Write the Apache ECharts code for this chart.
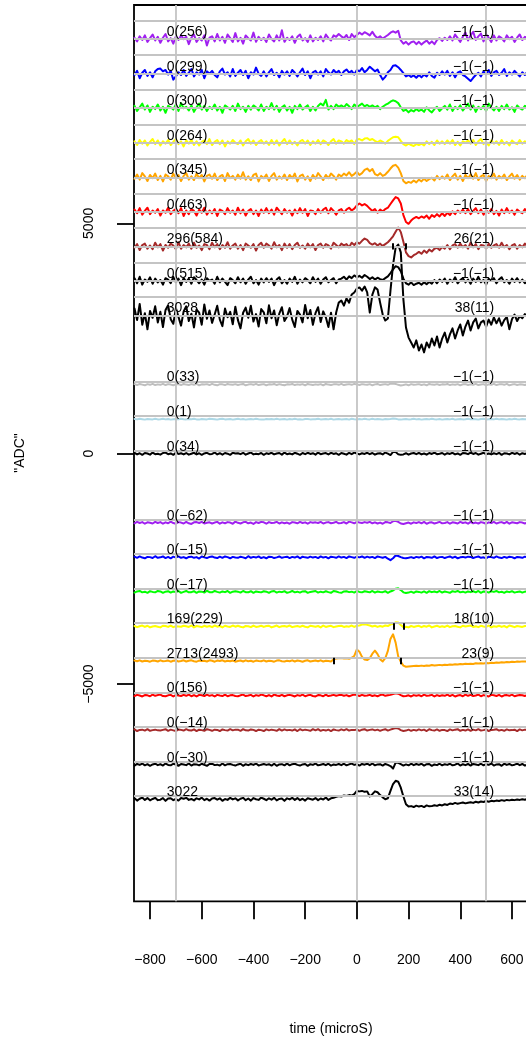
<!DOCTYPE html>
<html>
<head>
<meta charset="utf-8">
<script src="https://cdn.jsdelivr.net/npm/echarts@6/dist/echarts.min.js"></script>
<style>
html,body{margin:0;padding:0;background:#fff;}
#chart{width:526px;height:1037px;}
</style>
</head>
<body>
<div id="chart"></div>
<script>
// Sample clock shared by every waveform (microseconds)
const T_START = -860;
const T_STEP = 10;

// Vertical offsets of the stacked waveforms (ADC)
const topOffsets = [9000, 8250, 7500, 6750, 6000, 5250, 4500, 3750, 3000];
const bottomOffsets = [1500, 750, 0, -1500, -2250, -3000, -3750, -4500, -5250, -6000, -6750, -7500];

const topColors = ['#A020F0', '#0000FF', '#00FF00', '#FFFF00', '#FFA500', '#FF0000', '#A52A2A', '#000000', '#000000'];
const bottomColors = ['#BEBEBE', '#ADD8E6', '#000000', '#A020F0', '#0000FF', '#00FF00', '#FFFF00', '#FFA500', '#FF0000', '#A52A2A', '#000000', '#000000'];

const topLeftLabels = ['0(256)', '0(299)', '0(300)', '0(264)', '0(345)', '0(463)', '296(584)', '0(515)', '3028'];
const topRightLabels = ['−1(−1)', '−1(−1)', '−1(−1)', '−1(−1)', '−1(−1)', '−1(−1)', '26(21)', '−1(−1)', '38(11)'];
const bottomLeftLabels = ['0(33)', '0(1)', '0(34)', '0(−62)', '0(−15)', '0(−17)', '169(229)', '2713(2493)', '0(156)', '0(−14)', '0(−30)', '3022'];
const bottomRightLabels = ['−1(−1)', '−1(−1)', '−1(−1)', '−1(−1)', '−1(−1)', '−1(−1)', '18(10)', '23(9)', '−1(−1)', '−1(−1)', '−1(−1)', '33(14)'];

// Reference levels (ADC) and time marks
const guideLevels = [9400, 9000, 8650, 8250, 7900, 7500, 7150, 6750, 6400, 6000, 5650, 5250, 4900, 4500, 4150, 3750, 3400, 3000,
  1570, 820, 70, -1430, -2180, -2930, -3680, -4430, -5180, -5930, -6680, -7430];
const guideTimes = [-700, 0, 500];
const xTicks = [-800, -600, -400, -200, 0, 200, 400, 600];
const yTicks = [-5000, 0, 5000];

// Pulse window marks: waveform group/index and time
const markTrace = ['top6', 'top6', 'bottom6', 'bottom6', 'bottom7', 'bottom7'];
const markTime = [139, 191, 142, 180, -88, 168];

// Waveforms as deviation from their offset (ADC), one value per sample
const wPurple = [
  30,-50,60,-20,80,-60,20,100,-30,50,
  -80,30,110,-50,20,-100,60,-20,80,0,
  50,-110,30,100,-60,20,-30,80,-140,30,
  60,-50,110,-30,50,-80,100,20,-60,130,
  -50,30,-100,80,20,-30,140,-60,50,-20,
  30,-60,100,0,-50,80,-30,190,-60,30,
  -20,60,-80,50,100,-30,20,-60,80,-50,
  30,-20,60,-50,100,20,-30,80,50,110,
  60,20,90,-20,110,40,90,140,100,150,
  120,80,160,70,20,60,10,50,90,140,
  170,140,180,-30,-100,-60,-120,-70,-50,-110,
  -60,-120,-70,-30,-100,-50,-110,-20,20,-40,
  30,-20,60,-30,100,20,-60,50,140,-30,
  80,160,-20,60,120,-50,100,30,-60,80,
  -30,60,20,-50,80,0,50,-60,30,100,
  -20,50,20];
const wBlue = [
  -30,60,-100,20,80,-50,30,-80,50,100,
  110,50,80,-20,60,-130,-60,30,-30,80,
  -50,20,100,-60,30,-20,80,-100,50,0,
  60,-30,-80,50,110,-20,30,-60,100,-50,
  20,80,-30,60,-100,30,-20,130,0,-50,
  50,-60,30,100,-30,20,-80,60,-20,50,
  -50,80,20,-60,30,110,-30,50,-100,30,
  60,-20,50,-60,100,30,-20,80,20,60,
  -30,50,90,20,60,-20,80,50,120,30,
  80,150,100,50,90,-30,-130,-70,30,80,
  170,180,140,80,10,-60,-30,-70,-40,-90,
  -30,-80,-20,-60,30,-50,-90,20,-30,50,
  -20,60,-50,30,-80,20,50,-30,-60,-110,
  -160,-90,-30,20,-60,50,-20,80,-50,30,
  60,-30,20,100,-50,30,-20,60,0,-60,
  30,-30,50];
const wGreen = [
  50,-60,20,100,-30,60,-80,30,-20,80,
  -50,30,-100,50,20,-30,80,-60,110,0,
  30,-50,60,-80,20,100,-30,50,-60,30,
  -20,80,-50,30,-100,60,20,-30,50,-60,
  100,-20,30,-80,50,-30,60,20,-50,80,
  -60,30,-20,110,-30,50,-80,20,60,-50,
  30,-100,50,-20,80,-30,20,60,-60,30,
  -50,50,100,60,180,-30,50,-20,80,30,
  60,20,90,40,-20,80,30,60,100,40,
  70,30,60,20,50,-20,30,70,100,140,
  170,150,110,20,-60,-30,-90,-40,-70,-20,
  -60,-30,-80,20,-50,-90,-20,30,-60,0,
  50,-30,80,-60,30,-20,60,-50,20,100,
  -30,60,-80,30,-20,50,-60,100,20,-50,
  30,-60,50,-20,80,-30,20,-80,60,0,
  -30,50,20];
const wYellow = [
  30,-50,60,-20,50,-60,20,80,-30,50,
  -60,30,-20,60,-50,20,80,-30,30,-80,
  50,-20,60,-50,30,-60,20,50,-30,80,
  -50,20,60,-30,50,-80,30,-20,60,0,
  -30,50,-60,30,80,-20,50,-50,20,60,
  -20,30,-50,60,-30,50,-60,20,80,-30,
  50,-30,20,-60,30,60,-20,50,-50,30,
  -20,60,-30,50,20,-50,30,80,-20,50,
  30,-20,60,20,50,-30,70,80,50,90,
  100,60,80,40,10,50,20,-20,40,80,
  120,130,120,40,-30,-60,-20,-50,-70,-30,
  -50,-20,-60,30,-30,20,-50,50,-20,30,
  -30,50,-20,60,-50,20,-60,30,0,50,
  -20,60,-50,30,80,-30,20,-60,50,-20,
  30,-50,60,-30,20,-60,50,0,-30,60,
  -20,30,0];
const wOrange = [
  -30,60,-50,90,20,-80,50,-20,80,-60,
  30,-90,60,20,-50,80,-30,50,-80,30,
  90,-50,20,-60,80,-20,50,-90,30,60,
  -30,80,-60,20,50,-80,90,-20,30,-50,
  60,-30,110,-50,20,-60,50,80,-90,30,
  -20,60,-80,30,90,-50,20,-30,60,-60,
  50,-20,80,-90,30,60,-50,20,-80,50,
  -30,90,20,-60,50,-20,80,30,-50,60,
  20,80,40,110,30,70,120,50,90,160,
  190,130,180,70,40,90,30,60,120,190,
  250,270,210,90,-80,-130,-100,-120,-70,-110,
  -50,-90,-30,-80,-40,-10,-70,30,-40,20,
  -30,60,-60,20,80,-50,30,-80,50,-20,
  60,-30,90,-60,20,50,-80,30,-20,80,
  -50,30,-20,60,-60,20,80,-30,50,-50,
  30,-20,60];
const wRed = [
  50,-30,80,-60,20,90,-50,30,-20,60,
  -80,30,-20,90,-50,20,60,-30,80,-90,
  30,-50,60,20,-80,50,-20,90,-60,30,
  -30,60,-90,50,20,-50,80,-20,30,-60,
  90,-30,50,-80,20,60,-50,30,-90,50,
  -20,80,-30,50,-60,90,20,-50,60,-20,
  30,-80,50,-30,80,-20,60,-90,30,20,
  -50,60,-20,50,90,-30,80,20,-60,30,
  60,-20,50,90,30,70,140,180,140,170,
  130,70,20,60,-20,50,10,60,90,170,
  250,320,290,180,-70,-220,-260,-190,-140,-110,
  -140,-100,-130,-80,-150,-70,-110,-50,-100,-30,
  -90,-20,-70,10,-50,30,-20,50,-30,60,
  -50,20,80,-30,50,-60,30,-20,60,-50,
  20,-80,50,-30,80,-20,30,-60,50,0,
  -30,60,-20];
const wBrown = [
  -30,50,-80,30,60,-50,20,-60,80,-20,
  50,-90,30,-30,60,20,-60,90,-50,30,
  -20,60,-50,80,-30,20,-80,50,30,-60,
  80,-20,50,-60,30,-30,90,-50,20,60,
  -50,30,-80,60,20,-30,50,-90,30,80,
  -30,60,20,-50,90,-20,30,-80,60,-30,
  50,-60,30,80,-30,20,-50,60,-20,50,
  -80,30,60,-30,50,20,-50,80,30,-20,
  60,20,50,-20,80,30,90,60,120,170,
  140,70,40,70,20,60,10,50,90,150,
  220,320,410,310,100,-130,-210,-240,-190,-160,
  -120,-160,-90,-140,-70,-110,-50,-30,-80,-10,
  -50,30,-60,20,50,-30,60,-20,30,-50,
  80,-20,50,-60,30,20,-50,60,-30,20,
  50,-30,80,-20,30,-60,20,50,-50,30,
  -20,60,0];
const wBlackA = [
  60,-50,90,-80,30,-20,80,-60,50,-30,
  20,-80,60,30,-50,90,-30,50,-90,60,
  -20,50,-60,80,20,-50,30,-80,60,0,
  30,-60,90,-30,50,-20,-90,60,20,-50,
  80,-30,50,-60,30,90,-50,20,-80,50,
  -30,60,-20,50,-90,30,80,-50,20,-60,
  50,-20,90,-60,30,-30,60,20,-50,80,
  -20,50,-60,30,80,-30,20,60,-50,30,
  50,90,30,100,60,120,80,110,70,130,
  90,40,80,30,70,40,20,60,100,170,
  250,320,300,210,50,-50,-80,-30,-90,-60,
  -40,-80,-30,-70,-20,-60,20,-50,30,-20,
  50,-60,30,-20,80,-50,20,60,-30,30,
  -60,50,-20,90,-30,20,-80,50,0,60,
  -50,30,80,-30,20,-60,50,-20,60,-30,
  30,-50,20];
const wSumA = [
  150,-100,250,-200,50,-300,100,-50,200,-150,
  80,-250,120,220,-80,-180,160,-30,-220,90,
  200,-120,40,-260,130,60,-200,240,-70,110,
  -160,20,210,-90,-230,150,-40,80,-190,190,
  -100,-280,60,170,-50,210,-130,30,-240,140,
  70,-170,220,-60,110,-210,40,180,-120,-20,
  160,-90,-250,100,20,-150,230,-60,120,-200,
  50,180,-140,90,-40,-250,60,-300,65,280,
  325,215,370,280,455,500,585,610,540,630,
  500,65,455,610,565,280,20,-110,-65,540,
  1100,1475,1540,1370,350,-260,-480,-585,-695,-540,
  -760,-630,-800,-585,-695,-500,-650,-455,-695,-500,
  -370,-585,-410,-280,-500,-325,-195,-435,-240,-110,
  -325,-150,-65,-280,-150,-110,-240,-90,-200,-40,
  -170,-60,-220,-100,-30,-300,-80,20,-120,-10,
  -60,30,-40];
const wGrey = [
  10,-10,15,0,-15,10,-5,15,-10,5,
  -5,15,-10,10,0,-15,5,10,-10,15,
  0,-10,10,-5,15,-15,5,0,10,-10,
  15,-5,-15,10,5,-10,15,0,-5,10,
  -10,5,15,-15,0,10,-5,15,-10,0,
  10,-15,5,0,15,-10,10,-5,-15,5,
  0,15,-10,5,-5,10,-15,15,0,-10,
  5,-5,10,-15,15,0,-10,5,10,-5,
  15,-10,0,10,-5,15,5,-10,10,0,
  -5,10,-15,5,15,-10,0,10,-5,20,
  25,15,-5,-20,-10,5,-15,10,-5,0,
  10,-10,5,-15,15,0,-5,10,-10,5,
  0,15,-10,5,-5,10,-15,5,10,-10,
  5,-5,15,-10,0,10,-15,5,-5,15,
  -10,5,10,-5,15,-15,0,10,-10,5,
  0,-10,10];
const wLightBlue = [
  5,-5,10,0,-10,5,0,-5,10,-5,
  0,10,-5,5,-10,0,5,-5,10,0,
  -5,5,0,10,-5,-10,5,0,-5,10,
  5,0,-10,5,10,-5,0,5,-10,0,
  10,-5,5,-10,0,5,-5,10,0,-5,
  -10,5,0,5,-5,10,-5,0,5,-10,
  5,-5,10,-5,0,-10,5,5,-5,0,
  0,10,-5,0,5,-5,10,-10,0,5,
  -5,0,5,-10,10,0,-5,5,-5,10,
  0,-5,10,-5,5,0,-10,5,0,5,
  15,10,-5,-10,0,5,-5,0,10,-5,
  5,-10,0,5,-5,10,0,-5,5,-10,
  0,5,-5,10,-10,0,5,-5,0,10,
  -5,5,0,-10,5,10,-5,0,5,-5,
  10,-5,5,0,-10,5,-5,10,0,-5,
  5,0,-5];
const wBlackB = [
  20,-15,10,-25,15,5,-20,25,-10,0,
  -20,15,25,-10,5,-25,20,-5,10,-15,
  15,-20,0,20,-15,10,-25,5,20,-10,
  -5,25,-15,10,-20,15,0,-25,20,5,
  10,-10,20,-20,5,25,-15,0,-10,15,
  -25,10,-5,20,-15,5,15,-20,25,-10,
  5,-15,20,0,-25,15,-10,20,-5,10,
  -20,25,-10,5,15,-15,20,-5,10,-25,
  15,0,-20,20,-10,25,5,-15,10,-5,
  20,-10,15,-20,5,10,-15,25,0,-30,
  40,35,-10,-25,-15,10,-20,5,15,-10,
  20,-15,5,-20,15,-5,25,-10,0,15,
  -20,10,-5,20,-15,5,-25,15,10,-10,
  25,-5,15,-20,0,20,-10,5,-15,10,
  -10,20,-25,10,5,-15,20,-5,15,-20,
  10,-5,15];
const wPurpleB = [
  -10,20,-5,15,-20,10,0,-15,20,-5,
  15,-20,10,-10,25,-5,-20,15,5,-15,
  20,-10,-25,10,15,-5,20,-15,0,10,
  -15,5,20,-20,10,-10,15,5,-20,25,
  0,-15,10,20,-10,5,-25,15,-5,20,
  10,-20,15,-5,0,20,-15,10,-10,5,
  -20,15,5,-10,20,-5,10,-20,15,0,
  10,-5,20,-15,5,15,-10,0,20,-10,
  -5,15,-15,25,10,-10,20,5,-5,15,
  0,20,-10,10,-15,5,-20,15,10,-5,
  35,45,20,-15,-25,-10,5,-20,10,-5,
  15,-10,20,-20,5,10,-15,0,20,-10,
  -5,15,-20,10,0,-15,20,-5,10,-20,
  20,-10,5,-15,15,0,-20,10,-5,20,
  -15,5,15,-10,20,-20,10,0,-10,15,
  5,-15,10];
const wBlueB = [
  15,-10,20,-5,-20,10,5,-15,25,-10,
  0,20,-15,10,-20,15,-5,20,-10,5,
  -20,10,15,-10,5,-25,20,0,-15,10,
  20,-5,-15,15,-10,20,5,-20,10,-5,
  -10,15,0,-20,25,-10,10,-5,20,-15,
  5,-20,15,10,-15,0,20,-10,5,15,
  -15,10,-5,20,-20,15,0,-10,15,-5,
  10,-15,20,-5,10,-20,15,5,-10,20,
  -5,10,-15,20,5,-10,15,0,20,-10,
  15,-5,10,-15,20,5,-10,10,-30,-60,
  -20,40,30,5,-15,-20,-10,5,-15,10,
  -5,15,-20,10,0,-10,20,-15,5,10,
  -15,5,20,-10,15,-20,0,10,-5,15,
  10,-15,5,20,-10,0,-20,15,5,-10,
  20,-5,-15,10,-10,15,5,-20,10,0,
  -10,15,-5];
const wGreenB = [
  -15,10,20,-10,5,-20,15,0,-10,20,
  10,-20,5,15,-15,10,-5,20,-20,0,
  20,-10,-5,15,-20,10,5,-15,25,-5,
  -10,20,0,-15,10,-5,20,-20,5,15,
  5,-15,20,-5,-10,15,-20,10,0,-10,
  15,5,-20,10,20,-15,5,-5,15,-20,
  -5,20,-10,5,-15,10,15,-20,0,10,
  20,-15,5,-10,15,-5,-20,20,10,-10,
  -20,10,15,-5,5,-15,20,0,-10,15,
  5,-10,20,-15,10,0,-5,15,-20,10,
  30,70,80,40,-10,-25,-15,5,-20,10,
  0,-15,10,-20,15,-5,10,-10,20,-15,
  10,-5,-20,15,0,20,-10,5,-15,10,
  -5,15,-10,20,-20,10,5,-15,15,0,
  20,-10,5,-20,10,-5,15,-15,0,10,
  -15,5,10];
const wYellowB = [
  10,-15,5,20,-10,15,-20,0,10,-5,
  -20,15,10,-10,20,-15,5,0,-5,15,
  5,-10,20,-20,10,0,-15,15,-5,10,
  -15,20,-5,10,-20,15,0,-10,20,-5,
  15,-5,-20,10,5,-15,20,-10,0,15,
  -10,10,15,-20,0,20,-15,5,10,-5,
  20,-15,0,10,-10,15,-5,-20,15,5,
  -5,10,-20,20,-10,5,15,-15,0,10,
  15,-10,5,-5,20,-10,15,20,40,45,
  35,20,0,15,-10,10,-5,20,10,40,
  60,90,85,30,-15,-5,-20,10,-10,5,
  15,-15,10,-5,20,-20,0,15,-10,5,
  -10,20,-15,5,10,-5,-20,15,0,10,
  20,-10,5,-15,15,0,-10,20,-20,5,
  -5,15,-10,10,-20,20,5,-15,10,0,
  -10,10,5];
const wOrangeB = [
  10,-5,15,-10,5,0,-15,10,5,-10,
  15,-5,0,10,-15,5,10,-10,0,15,
  -10,5,15,-5,-15,10,0,5,-10,15,
  5,-15,10,0,15,-10,5,-5,10,-15,
  0,10,-10,15,-5,5,-15,10,0,-5,
  15,-10,5,0,-15,10,15,-5,-10,5,
  -5,15,-10,10,0,-15,5,15,-10,0,
  10,-5,15,-10,5,0,-10,35,55,60,
  65,55,60,50,70,110,250,200,90,30,
  20,60,160,225,150,40,-10,60,220,480,
  580,400,100,-20,-100,-125,-120,-115,-110,-105,
  -110,-100,-108,-96,-102,-88,-97,-90,-84,-92,
  -80,-86,-74,-79,-70,-76,-64,-71,-60,-66,
  -58,-63,-50,-56,-47,-52,-41,-48,-38,-44,
  -33,-39,-27,-31,-22,-28,-18,-24,-12,-17,
  -8,-13,-4];
const wRedB = [
  -10,15,0,-20,10,5,-15,20,-5,10,
  20,-10,-15,5,15,-20,10,0,-10,15,
  -5,20,-15,10,-20,15,5,-10,20,-5,
  10,-20,15,0,-10,20,-15,5,10,-10,
  -15,5,20,-10,0,15,-20,10,-5,20,
  5,-15,10,-20,20,0,-10,15,-15,5,
  15,0,-20,10,-5,20,-15,5,15,-10,
  -20,10,5,-15,20,-10,0,15,-5,10,
  15,-5,10,-15,5,20,10,-10,15,-5,
  0,15,-10,5,-15,10,20,-5,5,15,
  35,50,40,10,-15,-10,5,-20,10,-5,
  10,-15,20,-5,0,15,-20,10,-10,5,
  -5,20,-10,15,-20,0,10,-15,20,-5,
  15,-10,0,20,-15,10,-5,-20,15,5,
  -10,15,-20,5,10,-5,20,-15,0,10,
  5,-10,15];
const wBrownB = [
  15,-20,5,10,-10,20,-15,0,10,-5,
  -10,5,20,-15,10,-5,-20,15,5,-10,
  20,-5,-10,15,-20,10,0,-15,20,5,
  -15,10,5,-20,15,0,-10,20,-5,10,
  10,-15,20,-5,-10,15,5,-20,10,0,
  -20,15,-5,10,0,-15,20,-10,15,-5,
  5,-10,15,-20,20,-5,10,0,-15,20,
  -5,20,-15,5,-10,10,-20,15,0,-10,
  15,-5,20,-10,5,0,15,-15,10,20,
  -10,5,15,-5,10,-15,5,20,-10,10,
  30,45,35,0,-20,-10,10,-15,5,-10,
  15,-5,10,-20,20,0,-10,15,-15,5,
  0,-20,15,-5,10,20,-15,5,-10,15,
  -15,10,-5,20,-10,0,15,-20,5,10,
  20,-10,5,-15,15,-5,0,10,-20,15,
  -5,10,0];
const wBlackC = [
  -20,15,-5,25,-15,10,-25,5,20,-10,
  10,-20,25,-5,-15,20,0,-25,15,5,
  -10,25,-20,10,5,-15,20,-5,-25,15,
  20,-10,0,-20,25,-15,10,15,-5,-20,
  5,20,-25,10,-10,15,-5,25,-20,0,
  15,-5,10,-20,20,-25,5,10,-15,25,
  -15,10,20,-5,-20,5,15,-25,10,-5,
  25,-15,0,15,-10,20,-20,5,-5,15,
  -10,20,-15,5,25,-5,10,-20,15,0,
  20,-10,25,-15,5,10,-20,15,-5,-30,
  -85,45,40,10,-20,5,-15,20,-10,15,
  -5,20,-20,10,15,-25,5,-10,20,-15,
  10,-5,20,-15,0,25,-20,10,-10,15,
  -20,15,5,-10,20,-15,10,-5,25,-20,
  5,10,-25,20,-5,15,-15,0,20,-10,
  15,-20,5];
const wSumB = [
  20,-30,10,35,-15,25,-25,5,30,-20,
  -10,25,-35,15,20,-20,5,-30,25,10,
  30,-15,5,-25,20,-5,35,-20,10,-30,
  15,25,-10,20,-35,5,-15,30,-5,20,
  -25,10,30,-20,15,-30,25,0,-15,35,
  10,-20,20,-10,30,-25,5,15,-35,20,
  -5,30,-15,25,-20,10,-30,20,5,-10,
  25,-20,15,-5,35,-15,20,30,50,70,
  60,80,70,90,80,110,180,170,180,160,
  170,60,110,170,150,90,40,0,20,180,
  330,400,380,250,60,-110,-160,-150,-170,-140,
  -160,-145,-170,-135,-155,-150,-130,-145,-120,-135,
  -110,-125,-95,-105,-80,-100,-85,-70,-90,-75,
  -65,-80,-55,-70,-50,-60,-40,-55,-35,-45,
  -30,-40,-20,-35,-15,-25,-10,-20,-5,-15,
  0,-10,5];

const topWaves = [wPurple, wBlue, wGreen, wYellow, wOrange, wRed, wBrown, wBlackA, wSumA];
const bottomWaves = [wGrey, wLightBlue, wBlackB, wPurpleB, wBlueB, wGreenB, wYellowB, wOrangeB, wRedB, wBrownB, wBlackC, wSumB];

// Where the per-trace annotations sit along the time axis
const LEFT_LABEL_T = -735;
const RIGHT_LABEL_T = 531;

const FONT = '"Liberation Sans", Arial, Helvetica, sans-serif';
const minus = v => String(v).replace('-', '−');

const chart = echarts.init(document.getElementById('chart'), null, {renderer: 'canvas'});

const offsets = topOffsets.concat(bottomOffsets);
const colors = topColors.concat(bottomColors);
const waves = topWaves.concat(bottomWaves);
const leftLabels = topLeftLabels.concat(bottomLeftLabels);
const rightLabels = topRightLabels.concat(bottomRightLabels);

const series = [];

// grey reference lines, underneath every waveform
series.push({
  type: 'line',
  data: [],
  z: 1,
  silent: true,
  markLine: {
    silent: true,
    symbol: ['none', 'none'],
    animation: false,
    label: {show: false},
    lineStyle: {color: '#C4C4C4', width: 1.8, type: 'solid'},
    data: guideLevels.map(v => ({yAxis: v})).concat(guideTimes.map(t => ({xAxis: t})))
  }
});

waves.forEach((w, k) => {
  series.push({
    type: 'line',
    data: w.map((d, i) => [T_START + i * T_STEP, offsets[k] + d]),
    showSymbol: false,
    symbol: 'none',
    silent: true,
    z: 2,
    lineStyle: {color: colors[k], width: 2, join: 'round', cap: 'round'},
    itemStyle: {color: colors[k]}
  });
});

// pulse window marks, drawn as short black strokes at the trace offset
const markLines = markTrace.map((tr, j) => {
  const grp = tr.startsWith('top') ? topOffsets : bottomOffsets;
  const off = grp[parseInt(tr.replace(/\D/g, ''), 10)];
  return [{coord: [markTime[j], off - 70]}, {coord: [markTime[j], off + 70]}];
});
series.push({
  type: 'line',
  data: [],
  z: 3,
  silent: true,
  markLine: {
    silent: true,
    symbol: ['none', 'none'],
    animation: false,
    label: {show: false},
    lineStyle: {color: '#000', width: 2, type: 'solid'},
    data: markLines
  }
});

const option = {
  animation: false,
  backgroundColor: '#fff',
  grid: {
    left: 134, right: -2, top: 5, bottom: 135.7,
    show: true, borderColor: '#000', borderWidth: 1.8, backgroundColor: 'transparent',
    containLabel: false, outerBoundsMode: 'none'
  },
  xAxis: {
    type: 'value', min: -862, max: 662,
    axisLine: {show: false, onZero: false},
    splitLine: {show: false},
    axisTick: {show: true, length: 18, lineStyle: {color: '#000', width: 1.8}, customValues: xTicks},
    axisLabel: {customValues: xTicks, margin: 52, fontSize: 14, color: '#000', fontFamily: FONT, formatter: minus}
  },
  yAxis: {
    type: 'value', min: -9716, max: 9740,
    axisLine: {show: false, onZero: false},
    splitLine: {show: false},
    axisTick: {show: true, length: 17, lineStyle: {color: '#000', width: 1.8}, customValues: yTicks},
    axisLabel: {customValues: yTicks, rotate: 90, margin: 38, fontSize: 14, color: '#000', fontFamily: FONT, formatter: minus}
  },
  series: series
};
chart.setOption(option);

// per-trace annotations and axis titles
const texts = [];
offsets.forEach((off, k) => {
  const pl = chart.convertToPixel({gridIndex: 0}, [LEFT_LABEL_T, off]);
  const pr = chart.convertToPixel({gridIndex: 0}, [RIGHT_LABEL_T, off]);
  texts.push({type: 'text', x: pl[0], y: pl[1] - 7, z: 20, silent: true,
    style: {text: leftLabels[k], fill: '#000', font: '14px ' + FONT, align: 'left', verticalAlign: 'middle'}});
  texts.push({type: 'text', x: pr[0], y: pr[1] - 7, z: 20, silent: true,
    style: {text: rightLabels[k], fill: '#000', font: '14px ' + FONT, align: 'right', verticalAlign: 'middle'}});
});
texts.push({type: 'text', x: 331, y: 1029, z: 20, silent: true,
  style: {text: 'time (microS)', fill: '#000', font: '14px ' + FONT, align: 'center', verticalAlign: 'middle'}});
texts.push({type: 'text', x: 20, y: 453, rotation: Math.PI / 2, z: 20, silent: true,
  style: {text: '"ADC"', fill: '#000', font: '14px ' + FONT, align: 'center', verticalAlign: 'middle'}});
chart.setOption({graphic: texts});
</script>
</body>
</html>
